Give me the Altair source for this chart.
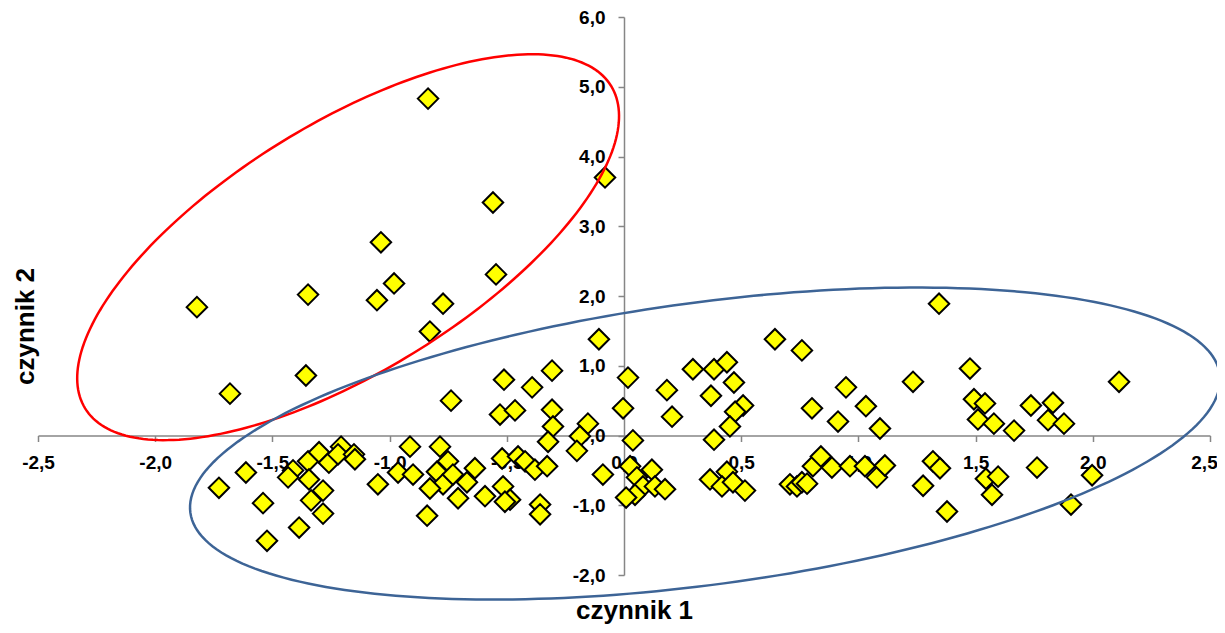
import numpy as np
import pandas as pd
import altair as alt

# upper group (red ellipse)
upper_x = [-0.836, -0.081, -0.559, -1.037, -0.546, -0.981, -1.348, -1.054, -0.772, -1.822, -0.828, -1.681, -1.357]
upper_y = [4.83, 3.70, 3.34, 2.77, 2.31, 2.18, 2.02, 1.94, 1.89, 1.84, 1.49, 0.60, 0.86]

# lower group (blue ellipse)
lower_x = [
    -1.728, -1.613, -1.540, -1.523, -1.386, -1.412, -1.433, -1.348, -1.301, -1.259, -1.207, -1.220,
    -1.152, -1.148, -1.344, -1.284, -1.335, -1.284, -1.050, -0.913, -0.964, -0.900, -0.840, -0.785,
    -0.751, -0.798, -0.772, -0.828, -0.730, -0.670, -0.636, -0.708, -0.593, -0.520, -0.452, -0.422,
    -0.380, -0.328, -0.516, -0.486, -0.508, -0.358, -0.358, -0.090,
    -0.107, -0.307, -0.512, -0.392, -0.738, -0.529, -0.465, -0.307, -0.303, -0.154, -0.188, -0.324, -0.201,
    0.017, -0.004, 0.038, 0.183, 0.205, 0.294, 0.384, 0.439, 0.469, 0.371, 0.508, 0.474, 0.452, 0.384,
    0.644, 0.759, 0.947, 0.802, 0.913, 1.032, 1.092, 1.344, 1.476, 1.233, 1.493, 1.540, 1.510, 1.578,
    1.664, 1.736, 1.830, 1.809, 1.877, 2.112,
    0.026, 0.055, 0.119, 0.081, 0.132, 0.175, 0.047, 0.009, 0.367, 0.439, 0.418, 0.465, 0.516, 0.708,
    0.738, 0.759, 0.781, 0.806, 0.840, 0.887, 0.964, 1.028, 1.079, 1.113, 1.318, 1.348, 1.276, 1.378,
    1.544, 1.596, 1.570, 1.762, 1.997, 1.907,
]
lower_y = [
    -0.75, -0.53, -0.97, -1.51, -1.32, -0.50, -0.60, -0.37, -0.24, -0.39, -0.16, -0.27,
    -0.27, -0.34, -0.63, -0.79, -0.93, -1.12, -0.70, -0.16, -0.53, -0.56, -1.15, -0.16,
    -0.37, -0.52, -0.70, -0.76, -0.56, -0.67, -0.47, -0.90, -0.87, -0.33, -0.30, -0.37,
    -0.49, -0.44, -0.73, -0.92, -0.95, -0.99, -1.13, -0.56,
    1.38, 0.93, 0.80, 0.69, 0.50, 0.30, 0.36, 0.37, 0.13, 0.17, -0.01, -0.09, -0.22,
    0.83, 0.39, -0.07, 0.65, 0.27, 0.95, 0.95, 1.05, 0.76, 0.57, 0.43, 0.34, 0.13, -0.06,
    1.38, 1.22, 0.69, 0.39, 0.20, 0.42, 0.10, 1.89, 0.96, 0.77, 0.52, 0.46, 0.23, 0.17,
    0.07, 0.43, 0.47, 0.22, 0.17, 0.77,
    -0.44, -0.60, -0.49, -0.73, -0.73, -0.77, -0.85, -0.89, -0.63, -0.52, -0.73, -0.67, -0.79, -0.70,
    -0.73, -0.67, -0.69, -0.44, -0.30, -0.46, -0.44, -0.44, -0.60, -0.43, -0.37, -0.47, -0.72, -1.09,
    -0.62, -0.59, -0.85, -0.46, -0.57, -0.99,
]

x_ticks = [-2.5, -2.0, -1.5, -1.0, -0.5, 0.0, 0.5, 1.0, 1.5, 2.0, 2.5]
y_ticks = [-2, -1, 0, 1, 2, 3, 4, 5, 6]

# ellipse annotations: centre and two conjugate semi-diameters (data units)
red_center = (-1.177, 2.70)
red_u = (1.122, 2.311)
red_v = (-0.2775, 1.521)
blue_center = (0.346, -0.115)
blue_u = (2.196, 0.991)
blue_v = (-0.0801, 2.005)


def ellipse_frame(center, u, v, n=240):
    t = np.linspace(0, 2 * np.pi, n + 1)
    return pd.DataFrame({
        "x": center[0] + u[0] * np.cos(t) + v[0] * np.sin(t),
        "y": center[1] + u[1] * np.cos(t) + v[1] * np.sin(t),
        "i": np.arange(n + 1),
    })


pts = pd.DataFrame({"x": upper_x + lower_x, "y": upper_y + lower_y})
red_df = ellipse_frame(red_center, red_u, red_v)
blue_df = ellipse_frame(blue_center, blue_u, blue_v)

W, H = 1172, 558
FONT = "Liberation Sans"
label_expr = "(datum.value < 0 ? '-' : '') + replace(format(abs(datum.value), '.1f'), '.', ',')"

x_scale = alt.Scale(domain=[-2.5, 2.5], nice=False, zero=False)
y_scale = alt.Scale(domain=[-2, 6], nice=False, zero=False)

x_off = -H * 2 / 8
y_off = -W / 2

x_axis = alt.Axis(
    values=x_ticks, labelExpr=label_expr, offset=x_off, grid=False,
    domainColor="#868686", domainWidth=1.5, tickColor="#868686", tickWidth=1.5, tickSize=6,
    labelFont=FONT, labelFontSize=19, labelFontWeight="bold", labelColor="black",
    labelPadding=12, labelOverlap=False, labelFlush=False, labelBound=False,
    labelOffset=alt.condition("datum.value >= 2.5", alt.value(-6), alt.value(0)),
    title="czynnik 1", titleX=596, titleY=183, titleAlign="center",
    titleBaseline="alphabetic", titleFont=FONT, titleFontSize=26, titleFontWeight="bold",
    titleColor="black",
)
y_axis = alt.Axis(
    values=y_ticks, labelExpr=label_expr, offset=y_off, grid=False,
    domainColor="#868686", domainWidth=1.5, tickColor="#868686", tickWidth=1.5, tickSize=6,
    labelFont=FONT, labelFontSize=19, labelFontWeight="bold", labelColor="black",
    labelPadding=13, labelOverlap=False, labelFlush=False, labelBound=False,
    title="czynnik 2", titleX=-5 + y_off, titleY=309, titleAngle=270, titleAlign="center",
    titleBaseline="alphabetic", titleFont=FONT, titleFontSize=26, titleFontWeight="bold",
    titleColor="black",
)

points = alt.Chart(pts).mark_point(
    shape="diamond", filled=True, fill="#FFFF00", stroke="#000000", strokeWidth=2,
    size=420, opacity=1, fillOpacity=1, strokeOpacity=1,
).encode(
    x=alt.X("x:Q", scale=x_scale, axis=x_axis),
    y=alt.Y("y:Q", scale=y_scale, axis=y_axis),
)

red = alt.Chart(red_df).mark_line(color="#FF0000", strokeWidth=2.5).encode(
    x=alt.X("x:Q", scale=x_scale), y=alt.Y("y:Q", scale=y_scale), order="i:Q"
)
blue = alt.Chart(blue_df).mark_line(color="#3D6496", strokeWidth=2.5).encode(
    x=alt.X("x:Q", scale=x_scale), y=alt.Y("y:Q", scale=y_scale), order="i:Q"
)

chart = alt.layer(points, red, blue).properties(
    width=W, height=H,
    autosize=alt.AutoSizeParams(type="none"),
    padding={"left": 30, "top": 9, "right": 7, "bottom": 50},
    background="white",
).configure_view(stroke=None)

chart.save("out.html", embed_options={"renderer": "svg", "actions": False})
